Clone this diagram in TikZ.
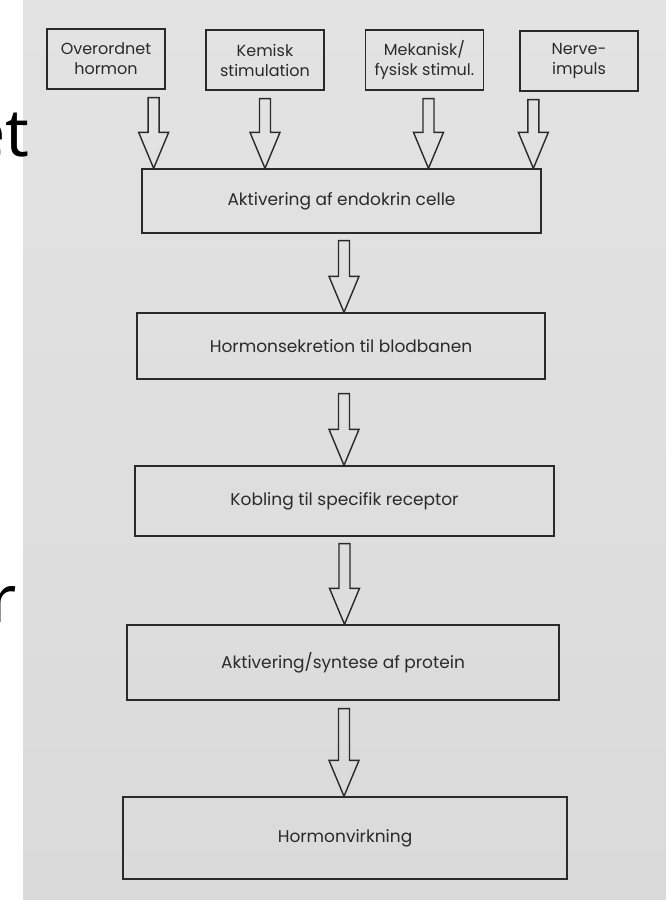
\documentclass[tikz,border=0pt]{standalone}
\usepackage{fontspec}
\setmainfont{Poppins}
\newfontfamily\screenfont{Noto Sans}
\usetikzlibrary{calc}

\definecolor{papertop}{HTML}{E3E3E3}
\definecolor{papermid}{HTML}{ECECEC}
\definecolor{paperbot}{HTML}{DADADA}
\definecolor{ink}{HTML}{2A2A2A}

% hollow block arrow from a coordinate down to the top of a node
\newcommand{\hollowarrow}[2]{%
  \draw[arrowline] let \p1=(#1), \p2=(#1 |- #2.north) in
    (\x1-5.5pt,\y1) -- (\x1+5.5pt,\y1) -- (\x1+5.5pt,\y2+36pt) -- (\x1+15pt,\y2+36pt)
    -- (\x2,\y2) -- (\x1-15pt,\y2+36pt) -- (\x1-5.5pt,\y2+36pt) -- cycle;}

\begin{document}
\begin{tikzpicture}[x=1pt, y=-1pt,
    stepbox/.style={draw=ink, line width=1.3pt, rectangle, inner sep=0pt, align=center, text=ink},
    srcbox/.style={stepbox, minimum width=118pt, minimum height=60pt, font=\fontsize{16}{20}\selectfont},
    mainbox/.style={stepbox, font=\fontsize{17}{20}\selectfont},
    arrowline/.style={draw=ink, line width=1.4pt, line join=miter},
    screen/.style={inner sep=0pt, font=\screenfont\fontsize{66}{66}\selectfont}]
  \useasboundingbox (0,0) rectangle (666,900);
  \fill[white] (0,0) rectangle (23,900);
  \shade[top color=papertop, middle color=papermid, bottom color=paperbot] (23,0) rectangle (666,900);

  \node[srcbox] (ovr) at (106,59)   {Overordnet\\hormon};
  \node[srcbox] (kem) at (265,60)   {Kemisk\\stimulation};
  \node[srcbox] (mek) at (424.5,60) {Mekanisk/\\fysisk stimul.};
  \node[srcbox] (nrv) at (579,61)   {Nerve-\\impuls};

  \node[mainbox, minimum width=399pt, minimum height=64pt] (akt) at (341.5,201) {Aktivering af endokrin celle};
  \node[mainbox, minimum width=408pt, minimum height=66pt] (sek) at (341,346)   {Hormonsekretion til blodbanen};
  \node[mainbox, minimum width=419pt, minimum height=70pt] (kob) at (344.5,501) {Kobling til specifik receptor};
  \node[mainbox, minimum width=432pt, minimum height=75pt] (pro) at (343,662.5) {Aktivering/syntese af protein};
  \node[mainbox, minimum width=444pt, minimum height=82pt] (vir) at (345,838)   {Hormonvirkning};

  \coordinate (a1) at ($(ovr.south east)+(-12,8)$);
  \coordinate (a2) at ($(kem.south)+(0,8)$);
  \coordinate (a3) at ($(mek.south)+(4,8)$);
  \coordinate (a4) at ($(nrv.south west)+(14,8)$);
  \coordinate (a5) at ($(akt.south)+(2.5,7)$);
  \coordinate (a6) at ($(sek.south)+(3,14)$);
  \coordinate (a7) at ($(kob.south)+(0,7)$);
  \coordinate (a8) at ($(pro.south)+(1,8)$);

  \hollowarrow{a1}{akt}
  \hollowarrow{a2}{akt}
  \hollowarrow{a3}{akt}
  \hollowarrow{a4}{akt}
  \hollowarrow{a5}{sek}
  \hollowarrow{a6}{kob}
  \hollowarrow{a7}{pro}
  \hollowarrow{a8}{vir}

  \node[screen, anchor=base east] (et) at (30,156) {et};
  \node[screen, anchor=base east] (r) at (17,622) {r};
\end{tikzpicture}
\end{document}
